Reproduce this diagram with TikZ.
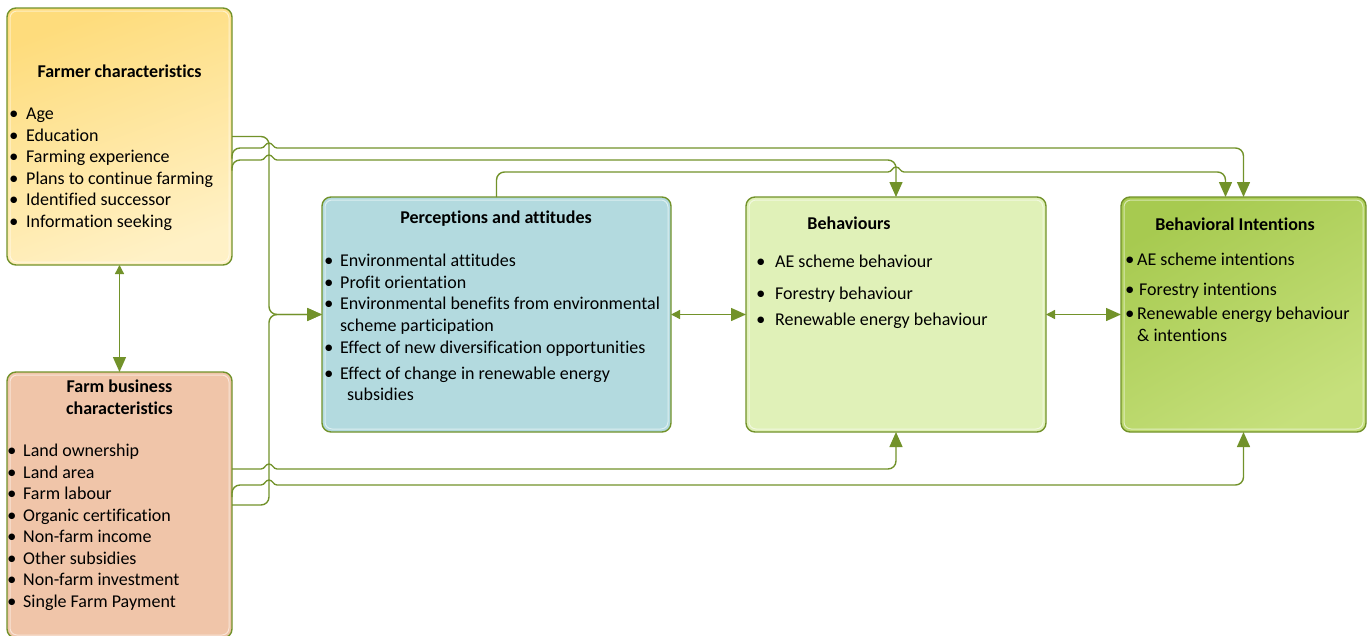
\documentclass[tikz,border=0pt]{standalone}
\usepackage{fontspec}
\setmainfont[Ligatures=NoCommon]{Carlito}
\newfontfamily\dotfont{DejaVu Sans}
\usepackage{tikz}
\usetikzlibrary{arrows.meta,calc}

\definecolor{linkgreen}{HTML}{72922A}
\definecolor{farmerfill}{HTML}{FEDC7C}
\definecolor{farmerfill2}{HTML}{FFF1C6}
\definecolor{farmfill}{HTML}{F0C5A9}
\definecolor{percfill}{HTML}{B3DADF}
\definecolor{behavfill}{HTML}{E0F1B8}
\definecolor{intenfill}{HTML}{A7CA50}
\definecolor{intenfill2}{HTML}{C6E07C}

\newcommand{\bodyfont}{\fontsize{18}{21.5}\selectfont}
\newcommand{\itm}[1][15pt]{\makebox[#1][l]{\raisebox{3pt}{\dotfont\fontsize{8.5}{8.5}\selectfont ●}}}

\tikzset{
  box/.style={draw=linkgreen, line width=1.4pt, rounded corners=9pt, anchor=north west, inner sep=0pt, outer sep=0pt},
  ttl/.style={font=\bodyfont\bfseries, inner sep=0pt, align=center},
  lst/.style={font=\bodyfont, anchor=north west, inner sep=0pt, align=left},
  link/.style={draw=linkgreen, line width=1.4pt, rounded corners=8pt},
  tobox/.style={link, -{Triangle[length=15pt,width=13pt]}},
  twoway/.style={link, {Triangle[length=9pt,width=9pt]}-{Triangle[length=15pt,width=13pt]}},
}

\begin{document}
\begin{tikzpicture}[x=1pt,y=-1pt]
  \useasboundingbox (0,0) rectangle (1371,635);

  % boxes
  \node[box, top color=farmerfill, bottom color=farmerfill2, shading angle=20, minimum width=225pt, minimum height=257pt] (farmer) at (7,8) {};
  \node[box, fill=farmfill, minimum width=225pt, minimum height=266pt] (farm) at (7,372) {};
  \node[box, fill=percfill, minimum width=349pt, minimum height=235pt] (perc) at (322,197) {};
  \node[box, fill=behavfill, minimum width=300pt, minimum height=235pt] (behav) at (746,197) {};
  \node[box, top color=intenfill, bottom color=intenfill2, shading angle=30, minimum width=245pt, minimum height=235pt] (inten) at (1121,197) {};
  \foreach \b in {farmer,farm,perc,behav,inten}
    \draw[white, opacity=.55, line width=1pt, rounded corners=7pt] ([shift={(3pt,-3pt)}]\b.north west) rectangle ([shift={(-3pt,3pt)}]\b.south east);

  % titles
  \node[ttl] (farmert) at (119.5,71) {Farmer characteristics};
  \node[ttl] (farmt) at (119.5,397) {Farm business\\characteristics};
  \node[ttl] (perct) at (496,219) {Perceptions and attitudes};
  \node[ttl] (behavt) at (849,223) {Behaviours};
  \node[ttl] (intent) at (1235,224) {Behavioral Intentions};

  % lists
  \node[lst] (farmerl) at (10,108) {\itm[16pt]Age\\\itm[16pt]Education\\\itm[16pt]Farming experience\\\itm[16pt]Plans to continue farming\\\itm[16pt]Identified successor\\\itm[16pt]Information seeking};
  \node[lst] (farml) at (8,444) {\itm Land ownership\\\itm Land area\\\itm Farm labour\\\itm Organic certification\\\itm Non-farm income\\\itm Other subsidies\\\itm Non-farm investment\\\itm Single Farm Payment};
  \node[lst] (percl) at (325,254) {\itm Environmental attitudes\\\itm Profit orientation\\\itm Environmental benefits from environmental\\\hspace*{15pt}scheme participation\\[1pt]\itm Effect of new diversification opportunities\\[4pt]\itm Effect of change in renewable energy\\\hspace*{22pt}subsidies};
  \node[lst] (behavl) at (757,255) {\itm[18pt]AE scheme behaviour\\[10pt]\itm[18pt]Forestry behaviour\\[4.5pt]\itm[18pt]Renewable energy behaviour};
  \node[lst] (intenl) at (1126,253) {\itm[11pt]AE scheme intentions\\[8.5pt]\itm[13pt]Forestry intentions\\[2.5pt]\itm[11pt]Renewable energy behaviour\\\hspace*{11pt}\& intentions};

  % connectors
  \coordinate (bus) at (269,0);
  \draw[tobox] (farmer.east) -| (bus |- perc.west) -- (perc.west);
  \draw[tobox] (farm.east) -| (bus |- perc.west) -- (perc.west);
  \draw[tobox] ($(farmer.east)+(0,22)$) -- ++(0,-10.5) -- (253,148) [sharp corners] -- (261,148) to[out=0,in=180] (269,143) to[out=0,in=180] (277,148) -- (285,148) [rounded corners=8pt] -| (inten.north);
  \draw[tobox] ($(farmer.east)+(0,34)$) -- ++(0,-10.5) -- (253,160) [sharp corners] -- (261,160) to[out=0,in=180] (269,155) to[out=0,in=180] (277,160) -- (285,160) [rounded corners=8pt] -| (behav.north);
  \draw[tobox] (perc.north) |- (880,172) [sharp corners] -- (888,172) to[out=0,in=180] (896,167) to[out=0,in=180] (904,172) -- (912,172) [rounded corners=8pt] -| ([xshift=-18pt]inten.north);
  \draw[tobox] ($(farm.east)+(0,-36)$) -- (253,469) [sharp corners] -- (261,469) to[out=0,in=180] (269,464) to[out=0,in=180] (277,469) -- (285,469) [rounded corners=8pt] -| (behav.south);
  \draw[tobox] ($(farm.east)+(0,-8)$) -- ++(0,-12) -- (253,485) [sharp corners] -- (261,485) to[out=0,in=180] (269,480) to[out=0,in=180] (277,485) -- (285,485) [rounded corners=8pt] -| (inten.south);
  \draw[twoway] (perc.east) -- (behav.west);
  \draw[twoway] (behav.east) -- (inten.west);
  \draw[twoway] (farmer.south) -- (farm.north);
\end{tikzpicture}
\end{document}
